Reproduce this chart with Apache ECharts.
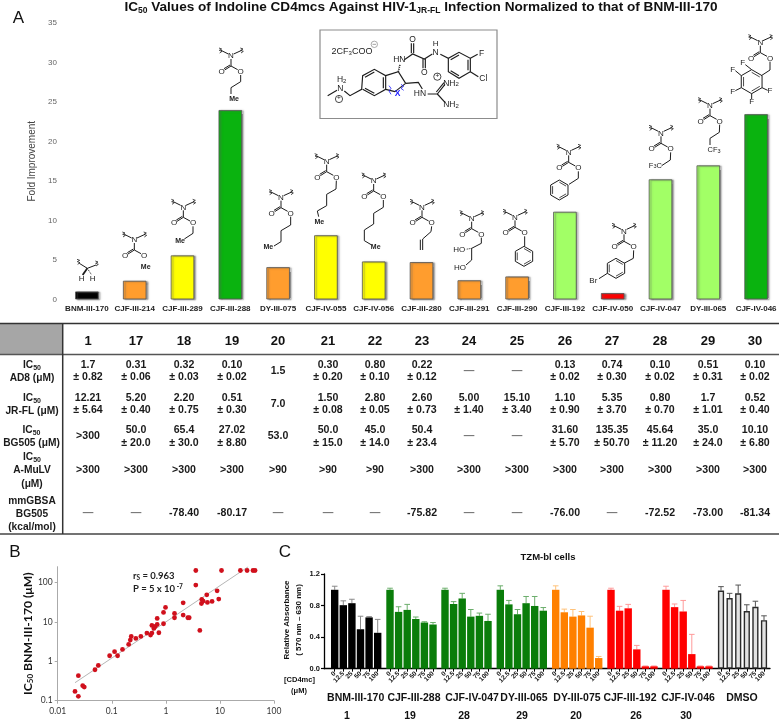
<!DOCTYPE html>
<html><head><meta charset="utf-8">
<style>html,body{margin:0;padding:0;background:#fff}#c{width:780px;height:721px}</style>
<script src="https://cdn.jsdelivr.net/npm/echarts@6/dist/echarts.min.js"></script>
</head><body><div id="c"></div>
<script>
// ---------- Panel A data
var compounds = ['BNM-III-170','CJF-III-214','CJF-III-289','CJF-III-288','DY-III-075','CJF-IV-055','CJF-IV-056','CJF-III-280','CJF-III-291','CJF-III-290','CJF-III-192','CJF-IV-050','CJF-IV-047','DY-III-065','CJF-IV-046'];
var foldImprovement = [1,2.36,5.57,23.98,4.08,8.12,4.8,4.72,2.42,2.9,11.1,0.8,15.2,16.97,23.45];
var barColors = ['#000000','#ff9d2e','#ffff00','#0ab30f','#ff9d2e','#ffff00','#ffff00','#ff9d2e','#ff9d2e','#ff9d2e','#a2ff66','#ff0000','#a2ff66','#a2ff66','#0ab30f'];
// ---------- Table data
var tableHeader = ['1','17','18','19','20','21','22','23','24','25','26','27','28','29','30'];
var rowAD8 = ['1.7\n± 0.82','0.31\n± 0.06','0.32\n± 0.03','0.10\n± 0.02','1.5','0.30\n± 0.20','0.80\n± 0.10','0.22\n± 0.12','—','—','0.13\n± 0.02','0.74\n± 0.30','0.10\n± 0.02','0.51\n± 0.31','0.10\n± 0.02'];
var rowJRFL = ['12.21\n± 5.64','5.20\n± 0.40','2.20\n± 0.75','0.51\n± 0.30','7.0','1.50\n± 0.08','2.80\n± 0.05','2.60\n± 0.73','5.00\n± 1.40','15.10\n± 3.40','1.10\n± 0.90','5.35\n± 3.70','0.80\n± 0.70','1.7\n± 1.01','0.52\n± 0.40'];
var rowBG505 = ['>300','50.0\n± 20.0','65.4\n± 30.0','27.02\n± 8.80','53.0','50.0\n± 15.0','45.0\n± 14.0','50.4\n± 23.4','—','—','31.60\n± 5.70','135.35\n± 50.70','45.64\n± 11.20','35.0\n± 24.0','10.10\n± 6.80'];
var rowAMuLV = ['>300','>300','>300','>300','>90','>90','>90','>300','>300','>300','>300','>300','>300','>300','>300'];
var rowGBSA = ['—','—','-78.40','-80.17','—','—','—','-75.82','—','—','-76.00','—','-72.52','-73.00','-81.34'];
// ---------- Panel B data
var ic50X = [.0209,.0241,.0241,.029,.031,.0489,.0564,.0912,.1127,.128,.158,.205,.22,.229,.279,.345,.446,.521,.552,.552,.6,.635,.692,.692,.743,.906,.906,.986,1.445,1.445,2.09,2.09,2.55,2.7,4.25,3.58,3.58,4.55,4.62,4.89,5.71,5.87,7.16,8.87,9.51,10.7,23.9,31.8,40.9,44.6];
var ic50Y = [.172,.129,.43,.24,.222,.61,.785,1.38,1.75,1.38,2.0,2.67,3.44,4.27,3.8,4.27,5.19,4.61,5.19,8.1,6.8,7.64,8.6,12.2,5.28,8.93,17.3,23.2,12.7,16.3,14.8,30.4,12.7,12.7,6.05,85.3,200,29.2,37,33.5,48.5,31,32.9,61.2,37.7,200,200,200,200,200];
var trendX = [0.0209,33.2];
var trendY = [0.286,248];
// ---------- Panel C data
var concentrations = ['0','12.5','25','50','75','100'];
var cGroupNames = ['BNM-III-170','CJF-III-288','CJF-IV-047','DY-III-065','DY-III-075','CJF-III-192','CJF-IV-046','DMSO'];
var cGroupNumbers = ['1','19','28','29','20','26','30',''];
var absBNM = [1,.805,.83,.5,.65,.455],       errBNM = [.045,.055,.05,.165,.01,.17];
var abs288 = [1,.72,.745,.63,.585,.56],      err288 = [.02,.065,.07,.025,.01,.025];
var abs047 = [1,.82,.89,.66,.67,.605],       err047 = [.02,.03,.065,.09,.035,.085];
var abs065 = [1,.815,.69,.83,.795,.735],     err065 = [.05,.05,.06,.085,.12,.04];
var abs075 = [1,.715,.66,.675,.52,.135],     err075 = [.05,.04,.09,.05,.145,.02];
var abs192 = [1,.735,.765,.245,.03,.03],     err192 = [.02,.055,.05,.05,.005,.005];
var abs046 = [1,.78,.725,.185,.03,.03],      err046 = [.045,.04,.14,.25,.005,.005];
var absDMSO = [.99,.895,.955,.73,.785,.615], errDMSO = [.05,.06,.105,.08,.07,.055];

// ---------- styles / layout
var SANS = '"Liberation Sans",Arial,sans-serif';
var INK = '#1c1c1c';
var cValues = [absBNM,abs288,abs047,abs065,abs075,abs192,abs046,absDMSO];
var cErrors = [errBNM,err288,err047,err065,err075,err192,err046,errDMSO];
var cFill = ['#000000','#0a7d0a','#0a7d0a','#0a7d0a','#ff8000','#ff0000','#ff0000','#e2e2e2'];
var cErrColor = ['#8a8a8a','#6cae6c','#6cae6c','#6cae6c','#ffc27a','#ff9a9a','#ff9a9a','#555555'];
var cFirstCenter = [334.7,390,445,500.3,555.7,611,666,721];
var cNameX = [355.7,414,472,524,577,630,688,742];
var cNumX = [347,410,464,522,576,636,686,0];
var tableX = [88,136,184,232,278,328,375,422,469,517,565,612,660,708,755];

var g = [];
function line(pts,opt){ opt=opt||{};
  g.push({type:'polyline',silent:true,z:opt.z||20,shape:{points:pts.map(function(p){return [p[0]/3,p[1]/3];})},
    style:{stroke:opt.color||INK,lineWidth:opt.w||1,fill:null,lineDash:opt.dash||null}});
}
function txt(text,x,y,size,opt){ opt=opt||{};
  g.push({type:'text',silent:true,z:opt.z||21,x:x,y:y,rotation:opt.rot||0,style:{text:text,font:(opt.weight||'normal')+' '+size+'px '+(opt.family||SANS),
    fill:opt.color||INK,align:opt.align||'center',verticalAlign:opt.valign||'middle',lineHeight:opt.lh||undefined,rich:opt.rich||undefined}});
}
function atom(text,zx,zy,size,opt){ txt(text,zx/3,zy/3,size||8,opt||{}); }
function me(zx,zy){ atom('Me',zx,zy,7,{weight:'bold'}); }
function squig(x,y){ line([[x-5,y-7],[x+3,y-4],[x-4,y],[x+4,y+3],[x-3,y+8]],{w:0.8}); }
function hexagon(cx,cy,r){
  var v=[]; for(var i=0;i<7;i++){var a=Math.PI/3*i-Math.PI/2; v.push([cx+r*Math.cos(a),cy+r*Math.sin(a)]);}
  line(v);
  [[0,1],[2,3],[4,5]].forEach(function(p){
    var a=v[p[0]],b=v[p[1]],k=0.78;
    line([[cx+(a[0]-cx)*k,cy+(a[1]-cy)*k],[cx+(b[0]-cx)*k,cy+(b[1]-cy)*k]],{w:0.8});
  });
}
function carbamate(nx,ny,chain){
  atom('N',nx,ny,8);
  line([[nx-8,ny-6],[nx-30,ny-17]]); line([[nx+8,ny-6],[nx+32,ny-17]]);
  squig(nx-31,ny-17); squig(nx+33,ny-17);
  line([[nx,ny+9],[nx,ny+30]]);
  line([[nx,ny+30],[nx-19,ny+42]]); line([[nx-3,ny+27],[nx-21,ny+38]]);
  atom('O',nx-28,ny+47,8);
  line([[nx,ny+30],[nx+20,ny+41]]);
  atom('O',nx+29,ny+47,8);
  if(chain) line([[nx+29,ny+57]].concat(chain));
}
// Structures above the bars
(function(){
  var sub5={s:{font:'5.5px '+SANS,fill:INK,verticalAlign:'bottom'}};
  line([[238,790],[262,805],[288,795]]); squig(236,785); squig(291,790);
  line([[262,805],[248,825]],{w:1.8}); line([[262,805],[275,825]],{dash:[1,1]});
  atom('H',245,836); atom('H',278,836);
  carbamate(403,720); me(437,802);
  carbamate(550,622,[[579,700],[553,717]]); me(540,722);
  carbamate(693,168,[[722,245],[693,263],[693,282]]); me(702,297);
  carbamate(843,593,[[872,675],[843,692],[843,725],[822,738]]); me(805,740);
  carbamate(980,485,[[1008,567],[980,583],[980,617],[952,633],[956,650]]); me(958,665);
  carbamate(1121,543,[[1150,622],[1121,640],[1121,672],[1093,690],[1093,722],[1115,735]]); me(1127,740);
  carbamate(1266,622,[[1293,695],[1268,717],[1268,750]]); line([[1261,719],[1261,750]]);
  carbamate(1415,656,[[1444,730],[1415,745],[1415,780],[1398,795]]); line([[1415,745],[1397,748]],{dash:[1,1]});
  atom('HO',1378,748); atom('HO',1380,803);
  carbamate(1545,652,[[1574,738]]); hexagon(1572,769,30);
  carbamate(1706,457,[[1735,535],[1707,553]]); hexagon(1678,570,30);
  carbamate(1872,694,[[1900,775],[1872,790]]); hexagon(1848,805,30); line([[1822,820],[1797,836]]); atom('Br',1780,842);
  carbamate(1983,400,[[2011,480],[1985,497]]); atom('F{s|3}C',1966,497,7.5,{rich:sub5});
  carbamate(2130,317,[[2158,397],[2130,415],[2130,435]]); atom('CF{s|3}',2142,450,7.5,{rich:sub5});
  carbamate(2281,128,[[2310,210],[2284,227]]); hexagon(2255,245,36);
  atom('F',2228,188); atom('F',2198,210); atom('F',2198,274); atom('F',2255,305); atom('F',2310,273);
  line([[2255,209],[2236,194]]); line([[2224,227],[2206,212]]); line([[2224,263],[2206,272]]); line([[2255,281],[2255,297]]); line([[2286,263],[2303,271]]);
})();
// Inset molecule: box and drawing
g.push({type:'rect',silent:true,z:19,shape:{x:320,y:30,width:177,height:88.5},style:{fill:'#fff',stroke:'#8c8c8c',lineWidth:1.2}});
(function(){
  function P(a){return a.map(function(p){return [(315+p[0]/3)*3,(25+p[1]/3)*3];});}
  function I(a,o){o=o||{};o.w=o.w||1.15;line(P(a),o);}
  function A(t,x,y,s,o){o=o||{};txt(t,315+x/3,25+y/3,s||8.5,o);}
  var sub={s:{font:'6px '+SANS,fill:INK,verticalAlign:'bottom'}};
  I([[38,212],[66,196]]); I([[88,198],[105,212],[140,193],[143,152],[178,133],[212,152],[212,193],[178,212],[143,193]]);
  I([[150,157],[178,141]]); I([[205,157],[205,190]]); I([[150,190],[178,205]]);
  I([[212,152],[250,140],[272,175]]);
  I([[250,140],[255,118]],{dash:[1,1],w:1.6});
  I([[272,175],[310,172],[322,192]],{w:1.15}); I([[272,175],[240,200]]); I([[212,193],[240,200]]);
  I([[268,104],[293,87],[328,102],[352,87]]); I([[289,85],[289,55]]); I([[296,85],[296,55]]);
  I([[324,102],[324,130]]); I([[331,102],[331,130]]);
  I([[376,88],[400,100],[432,82],[466,100],[466,140],[432,160],[400,140],[400,100]]);
  I([[407,104],[432,90]]); I([[459,104],[459,136]]); I([[407,137],[432,152]]);
  I([[466,100],[488,88]]); I([[466,140],[490,155]]);
  I([[338,207],[367,207],[390,178]]); I([[364,201],[387,173]]); I([[367,207],[390,232]]);
  A('2CF{s|3}COO',111,80,9,{rich:sub,weight:'normal'});
  g.push({type:'circle',silent:true,z:21,shape:{cx:315+178/3,cy:25+58/3,r:3.2},style:{stroke:'#888',fill:'#fff',lineWidth:0.7}});
  line([[(315+178/3-1.8)*3,(25+58/3)*3],[(315+178/3+1.8)*3,(25+58/3)*3]],{w:0.6,color:'#666',z:22});
  A('H{s|2}',80,165,8.5,{rich:sub}); A('N',76,192); A('HN',253,103); A('O',293,43); A('O',328,143);
  A('H',362,55,8); A('N',362,82); A('F',500,85); A('Cl',505,162); A('HN',315,207);
  A('NH{s|2}',408,175,8.5,{rich:sub}); A('NH{s|2}',408,240,8.5,{rich:sub});
  [[72,222],[367,155]].forEach(function(c){
    g.push({type:'circle',silent:true,z:21,shape:{cx:315+c[0]/3,cy:25+c[1]/3,r:3.6},style:{stroke:INK,fill:'#fff',lineWidth:0.8}});
    A('+',c[0],c[1]-1,6.5,{z:22});
  });
  A('X',248,205,8.5,{color:'#1a1aff',weight:'bold'});
  I([[222,182],[228,190],[222,198],[228,208]],{color:'#1a1aff',w:0.8});
  I([[258,178],[266,184],[258,190],[266,196]],{color:'#1a1aff',w:0.8});
})();
// Table
g.push({type:'rect',silent:true,z:5,shape:{x:0,y:324,width:62,height:30},style:{fill:'#a6a6a6'}});
[[0,323.5,779,323.5,1.5,'#333'],[0,354.5,779,354.5,1.5,'#555'],[0,534,779,534,1.5,'#444'],[62.7,323.5,62.7,534,1.5,'#333']].forEach(function(l){
  g.push({type:'line',silent:true,z:6,shape:{x1:l[0],y1:l[1],x2:l[2],y2:l[3]},style:{stroke:l[5],lineWidth:l[4]}});
});
var icRich={s:{font:'bold 7px '+SANS,fill:'#1a1a1a',verticalAlign:'bottom',lineHeight:12.5}};
function rowText(arr,yc){ arr.forEach(function(t,i){
  txt(t,tableX[i],yc,10.6,{weight:'bold',color:t==='—'?'#777':'#1a1a1a',lh:12.5});
});}
tableHeader.forEach(function(t,i){txt(t,tableX[i],341,13,{weight:'bold',color:'#111'});});
rowText(rowAD8,371); rowText(rowJRFL,404); rowText(rowBG505,436.5); rowText(rowAMuLV,470); rowText(rowGBSA,513);
txt('IC{s|50}\nAD8 (μM)',32,371.5,10.2,{weight:'bold',color:'#1a1a1a',lh:13,rich:icRich});
txt('IC{s|50}\nJR-FL (μM)',32,405,10.2,{weight:'bold',color:'#1a1a1a',lh:13,rich:icRich});
txt('IC{s|50}\nBG505 (μM)',31.5,437,10.2,{weight:'bold',color:'#1a1a1a',lh:13,rich:icRich});
txt('IC{s|50}\nA-MuLV\n(μM)',32,470.5,10.2,{weight:'bold',color:'#1a1a1a',lh:13.5,rich:icRich});
txt('mmGBSA\nBG505\n(kcal/mol)',32,514,10.2,{weight:'bold',color:'#1a1a1a',lh:12.8});
// Panel letters and titles
txt('A',18.5,18,17,{color:'#111'});
txt('B',15,552,17,{color:'#111'}); txt('C',285,552,17,{color:'#111'});
txt('IC{s|50} Values of Indoline CD4mcs Against HIV-1{s|JR-FL} Infection Normalized to that of BNM-III-170',421,7.5,13.6,{weight:'bold',color:'#111',
  rich:{s:{font:'bold 8.5px '+SANS,fill:'#111',verticalAlign:'bottom',lineHeight:16}}});
txt('TZM-bl cells',548,557.5,9.5,{weight:'bold',color:'#111'});
txt('Relative Absorbance\n( 570 nm – 630 nm)',293,620,8,{weight:'bold',color:'#111',rot:Math.PI/2,lh:12});
txt('[CD4mc]',299.5,680,7.5,{weight:'bold',color:'#111'}); txt('(μM)',299,691,7.5,{weight:'bold',color:'#111'});
cGroupNames.forEach(function(n,i){ txt(n,cNameX[i],698.5,10.5,{weight:'bold',color:'#111'});
  if(cGroupNumbers[i]) txt(cGroupNumbers[i],cNumX[i],716,10.5,{weight:'bold',color:'#111'}); });
txt('r{s|S} = 0.963',133,576,9.5,{align:'left',family:'Lato',weight:'bold',color:'#222',rich:{s:{font:'bold 6.5px Lato',fill:'#222',verticalAlign:'bottom'}}});
txt('P = 5 x 10{u| -7}',133,588.5,9.5,{align:'left',family:'Lato',weight:'bold',color:'#222',rich:{u:{font:'bold 6.5px Lato',fill:'#222',verticalAlign:'top'}}});

// Grids
var grids=[{left:63,top:23,width:718,height:276.4},{left:57.7,top:566.7,width:216.3,height:134},{left:324,top:574,width:446,height:94.7}];
var xAxes=[
 {gridIndex:0,type:'category',data:compounds,axisLine:{show:false},axisTick:{show:false},axisLabel:{interval:0,fontSize:8,fontWeight:'bold',color:'#222',fontFamily:SANS,margin:5}},
 {gridIndex:1,type:'log',logBase:10,min:0.01,max:100,axisLine:{lineStyle:{color:'#aaa'}},axisTick:{length:3,lineStyle:{color:'#aaa'}},minorTick:{show:false},splitLine:{show:false},minorSplitLine:{show:false},
  axisLabel:{fontSize:8.5,color:'#333',fontFamily:'Lato',margin:6,formatter:function(v){return String(+v.toPrecision(2));}}},
 {gridIndex:2,type:'value',min:0,max:1,axisLine:{lineStyle:{color:'#000',width:1.3}},axisTick:{show:false},axisLabel:{show:false},splitLine:{show:false}}
];
var yAxes=[
 {gridIndex:0,type:'value',min:0,max:35,interval:5,name:'Fold Improvement',nameLocation:'middle',nameGap:23,nameTextStyle:{fontSize:10,color:'#444',fontFamily:SANS},axisLine:{show:false},axisTick:{show:false},splitLine:{show:false},axisLabel:{fontSize:8,color:'#666',fontFamily:SANS,margin:6}},
 {gridIndex:1,type:'log',logBase:10,min:0.1,max:250,axisLine:{show:true,lineStyle:{color:'#aaa'}},axisTick:{show:true,length:3,lineStyle:{color:'#aaa'}},minorTick:{show:false},splitLine:{show:false},minorSplitLine:{show:false},
  axisLabel:{fontSize:8.5,color:'#333',fontFamily:'Lato',margin:5,showMaxLabel:false,formatter:function(v){return v>200?'':String(+v.toPrecision(2));}},
  name:'IC{s|50} BNM-III-170 (μM)',nameLocation:'middle',nameGap:22,nameTextStyle:{fontSize:12.2,fontWeight:'bold',color:'#111',fontFamily:'Lato',rich:{s:{fontSize:8,fontWeight:'bold',fontFamily:'Lato',color:'#111',verticalAlign:'bottom'}}}},
 {gridIndex:2,type:'value',min:0,max:1.2,interval:0.4,axisLine:{show:true,lineStyle:{color:'#000',width:1.3}},axisTick:{show:true,length:3,lineStyle:{color:'#000',width:1.2}},splitLine:{show:false},
  axisLabel:{fontSize:7.5,fontWeight:'bold',color:'#111',fontFamily:SANS,margin:4,formatter:function(v){return v.toFixed(1);}}}
];
var series=[
 {type:'bar',xAxisIndex:0,yAxisIndex:0,barWidth:23.5,data:foldImprovement.map(function(v,i){return {value:v,itemStyle:{color:barColors[i]}};}),
  itemStyle:{borderColor:'#555',borderWidth:0.8,shadowBlur:1.5,shadowOffsetX:1.8,shadowOffsetY:0.5,shadowColor:'rgba(90,90,90,.65)'},silent:true},
 {type:'line',xAxisIndex:1,yAxisIndex:1,data:trendX.map(function(x,i){return [x,trendY[i]];}),symbol:'none',lineStyle:{color:'#b5b5b5',width:1},silent:true,z:1},
 {type:'scatter',xAxisIndex:1,yAxisIndex:1,data:ic50X.map(function(x,i){return [x,ic50Y[i]];}),symbolSize:4.8,itemStyle:{color:'#d0101c',opacity:1},silent:true,z:3}
];
cValues.forEach(function(vals,k){
  var gi=grids.length, ax=xAxes.length;
  grids.push({left:cFirstCenter[k]-4.3,top:574,width:51.6,height:94.7});
  xAxes.push({gridIndex:gi,type:'category',data:concentrations,axisLine:{show:false},axisTick:{show:true,alignWithLabel:true,length:3,lineStyle:{color:'#000',width:1}},
    axisLabel:{interval:0,rotate:45,fontSize:6.5,fontWeight:'bold',color:'#111',fontFamily:SANS,margin:4}});
  yAxes.push({gridIndex:gi,type:'value',min:0,max:1.2,show:false,splitLine:{show:false}});
  var isDMSO=k===7;
  series.push({type:'custom',xAxisIndex:ax,yAxisIndex:ax,z:1,silent:true,data:vals.map(function(v,i){return [i,v,cErrors[k][i]];}),encode:{x:0,y:[1,2]},
    renderItem:function(p,api){
      var a=api.coord([api.value(0),api.value(1)]),b=api.coord([api.value(0),api.value(1)+api.value(2)]);
      return {type:'group',children:[
        {type:'line',shape:{x1:a[0],y1:a[1],x2:a[0],y2:b[1]},style:{stroke:cErrColor[k],lineWidth:1}},
        {type:'line',shape:{x1:a[0]-2.8,y1:b[1],x2:a[0]+2.8,y2:b[1]},style:{stroke:cErrColor[k],lineWidth:1}}]};
    }});
  series.push({type:'bar',xAxisIndex:ax,yAxisIndex:ax,z:2,barWidth:isDMSO?6.2:7.4,data:vals,silent:true,
    itemStyle:{color:cFill[k],borderColor:isDMSO?'#2a2a2a':cFill[k],borderWidth:isDMSO?1.4:0}});
});
var chart=echarts.init(document.getElementById('c'),null,{renderer:'canvas'});
chart.setOption({animation:false,backgroundColor:'#fff',grid:grids,xAxis:xAxes,yAxis:yAxes,series:series,graphic:{elements:g}});
</script></body></html>
